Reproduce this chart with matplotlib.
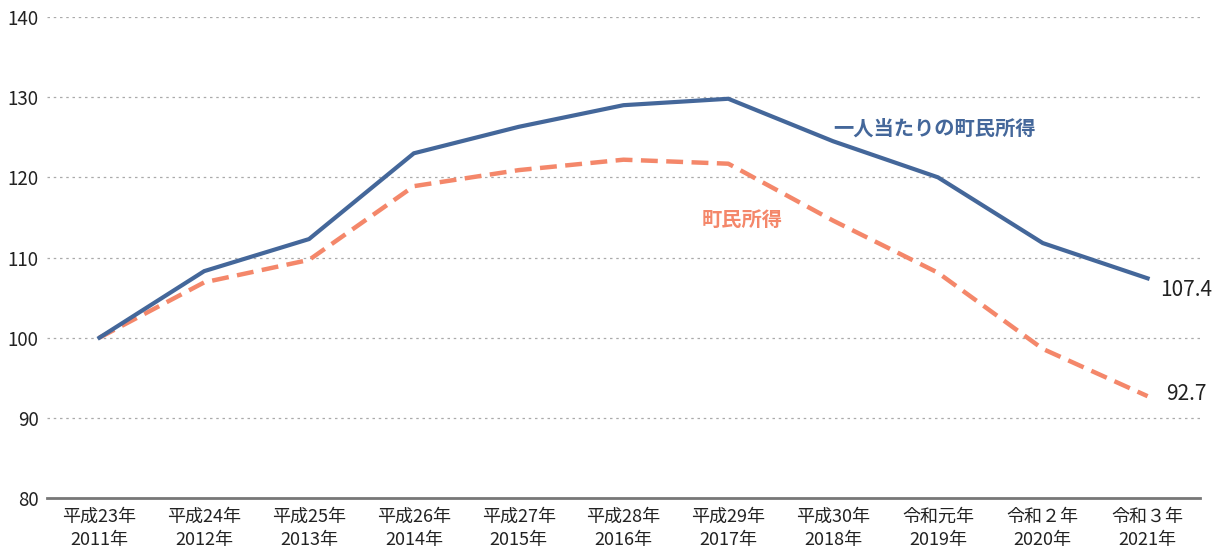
import matplotlib
matplotlib.use("Agg")
import matplotlib.pyplot as plt

plt.rcParams['font.family'] = ['Noto Sans CJK JP', 'DejaVu Sans']

categories = ["平成23年\n2011年", "平成24年\n2012年", "平成25年\n2013年", "平成26年\n2014年",
              "平成27年\n2015年", "平成28年\n2016年", "平成29年\n2017年", "平成30年\n2018年",
              "令和元年\n2019年", "令和２年\n2020年", "令和３年\n2021年"]
per_capita = [100, 108.3, 112.3, 123.0, 126.3, 129.0, 129.8, 124.5, 120.0, 111.8, 107.4]
town_income = [100, 106.9, 109.7, 118.9, 120.9, 122.2, 121.7, 114.6, 108.1, 98.6, 92.7]
yticks = [80, 90, 100, 110, 120, 130, 140]

BLUE = "#44679A"
ORANGE = "#F4876A"

fig = plt.figure(figsize=(12.28, 5.51), dpi=100)
ax = fig.add_axes([47/1228, 1 - 498/551, (1200-47)/1228, (498-17)/551])

x = list(range(len(categories)))
ax.plot(x, per_capita, color=BLUE, lw=3, solid_joinstyle='miter', zorder=3)
ax.plot(x, town_income, color=ORANGE, lw=3.2, ls=(0, (3.8, 1.9)), zorder=2)

ax.set_xlim(-0.5, len(categories) - 0.5)
ax.set_ylim(80, 140)
ax.set_yticks(yticks)
ax.set_yticklabels([str(v) for v in yticks], fontsize=13.5, color="#222222")
ax.set_xticks(x)
ax.set_xticklabels(categories, fontsize=13, color="#222222", linespacing=1.4)
ax.tick_params(axis='both', length=0)
ax.tick_params(axis='y', pad=6)
ax.tick_params(axis='x', pad=7)

for v in yticks[1:]:
    ax.axhline(v, color="#AAAAAA", lw=0.9, ls=(0, (2, 3)), zorder=1)

for s in ['top', 'right', 'left']:
    ax.spines[s].set_visible(False)
ax.spines['bottom'].set_color("#777777")
ax.spines['bottom'].set_linewidth(2)

ax.text(7.0, 126.2, "一人当たりの町民所得", color=BLUE, fontsize=14.6, fontweight='bold',
        ha='left', va='center')
ax.text(5.75, 114.8, "町民所得", color=ORANGE, fontsize=14.6, fontweight='bold',
        ha='left', va='center')
ax.text(10.12, per_capita[-1] - 1.4, f"{per_capita[-1]}", color="#222222", fontsize=15,
        ha='left', va='center')
ax.text(10.18, town_income[-1] + 0.3, f"{town_income[-1]}", color="#222222", fontsize=15,
        ha='left', va='center')

fig.savefig("out.png", dpi=100)
